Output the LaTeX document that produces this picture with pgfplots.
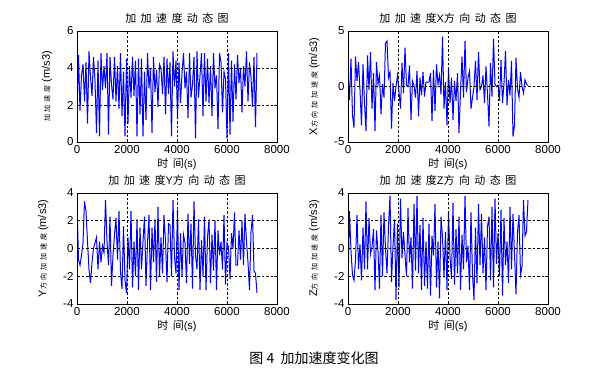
\documentclass[border=0pt]{standalone}
\usepackage{fontspec}
\usepackage{pgfplots}
\usepackage{pgfplotstable}
\pgfplotsset{compat=1.18}
\setmainfont{Liberation Sans}
\newfontfamily\cjk[LetterSpace=40]{Noto Sans CJK SC}
\newfontfamily\cjkcap{Noto Sans CJK SC}

\pgfplotstableread{
y
1.6
4.7
1.7
3.6
4.2
2.2
4.3
1.0
4.9
3.5
2.5
4.6
3.3
0.5
4.4
0.3
4.8
2.8
4.1
2.9
4.8
0.4
4.6
3.1
2.3
4.6
2.2
4.1
1.8
4.8
1.4
3.8
0.3
4.5
1.0
4.1
2.4
4.6
2.5
4.4
0.3
4.5
1.5
4.5
0.3
3.8
1.2
4.8
2.9
4.0
0.5
4.6
2.7
3.9
1.9
4.2
4.0
2.6
4.6
1.5
4.5
2.6
4.3
0.3
4.9
3.0
4.4
1.3
4.3
2.1
3.7
4.8
2.9
3.8
1.3
4.8
2.4
3.1
4.6
0.2
4.9
2.4
3.6
4.8
1.4
4.8
2.2
4.5
2.1
4.1
1.4
4.8
2.9
3.6
0.7
4.8
4.3
1.6
3.8
3.4
0.2
4.8
0.4
4.4
1.1
4.2
2.3
4.7
3.2
4.0
1.6
4.1
3.0
4.9
2.2
4.3
3.5
1.9
4.6
0.8
4.8
}\dataA

\pgfplotstableread{
y
1.3
-1.2
2.5
-2.6
-3.7
2.7
0.5
2.2
-0.3
-3.5
2.0
-1.5
-4.0
2.8
-0.3
3.1
-2.0
1.2
-4.0
2.2
0.2
1.0
-2.5
0.2
-1.0
3.9
4.1
0.8
1.3
-3.8
0.3
-1.3
0.0
1.0
-0.5
-2.0
2.1
-0.6
3.5
0.1
0.0
1.9
-3.0
0.5
0.1
-1.0
1.4
-2.7
0.8
-0.8
1.3
-0.9
0.4
0.4
0.4
1.2
-3.1
1.5
-2.2
2.0
0.2
1.0
-0.7
4.5
-2.0
0.4
-3.5
1.6
-1.5
0.8
-3.0
0.5
-1.3
1.2
-4.2
-0.5
2.7
-1.0
4.1
-0.5
0.8
1.4
-2.0
-1.0
0.0
2.3
-1.2
3.1
-0.3
0.0
1.0
-1.5
1.8
-0.7
-3.6
2.1
-0.9
4.3
0.2
0.0
0.1
-1.3
2.4
-1.5
0.3
3.2
-1.7
0.6
-0.8
2.3
-4.5
-3.5
2.6
-0.2
-1.0
1.3
0.0
-0.6
0.6
0.2
0.1
}\dataB

\pgfplotstableread{
y
3.3
-0.8
-1.2
-0.5
0.4
3.4
2.7
0.5
-1.5
-2.5
-1.0
0.0
0.4
0.8
-1.5
0.5
-1.0
0.2
-0.3
3.5
0.5
-1.2
2.3
-2.7
-0.5
1.0
2.2
-0.8
2.7
-1.7
-2.9
1.6
-2.3
-3.2
0.8
-1.5
2.7
-2.8
0.5
-2.0
2.1
-3.0
1.5
-1.5
0.5
2.3
-2.7
0.4
2.4
-3.0
1.5
-1.0
2.1
-2.4
3.0
-2.0
0.8
-1.8
2.4
0.5
-2.4
1.8
1.7
-2.0
3.5
-0.6
-1.8
2.8
-3.0
1.1
-2.0
1.0
0.4
-2.5
2.5
-1.1
1.8
-2.9
3.4
-0.5
-1.5
2.1
-3.0
0.6
-2.0
2.3
-3.0
0.8
2.1
-2.5
1.0
-1.6
2.0
-3.0
1.3
-0.5
0.5
-1.5
2.4
-2.6
0.4
0.1
-2.2
1.1
0.0
2.6
-1.2
-1.2
1.3
-0.8
2.0
-1.2
2.5
0.5
-1.0
-3.0
1.2
2.4
-1.6
-1.8
-3.2
}\dataC

\pgfplotstableread{
y
-2.9
2.7
-0.2
-1.9
-2.3
-0.8
2.4
-1.5
0.3
-2.3
1.5
-1.5
3.4
-1.5
2.2
-0.4
0.1
1.4
-3.0
1.3
-0.2
-2.9
2.4
-2.0
2.6
0.0
-1.8
1.6
3.8
-2.4
0.2
2.1
-3.7
1.8
-2.8
3.6
-0.7
1.2
-0.5
-2.0
2.9
-1.0
0.8
-2.9
3.2
-1.6
3.8
-1.8
1.7
-3.0
2.2
-2.7
0.5
-2.9
1.8
-3.4
0.9
-0.5
3.2
-2.8
0.5
-3.6
2.3
0.8
-2.1
1.2
-3.0
2.6
-0.6
-2.2
3.3
-2.6
1.4
-1.8
2.3
-3.0
1.0
-1.5
3.8
-1.0
0.2
-3.0
2.6
-1.9
-3.7
1.5
-2.5
3.2
-1.2
2.5
-1.8
0.8
-3.0
1.6
2.3
-2.3
3.0
-2.8
3.6
-1.1
1.1
-2.0
2.8
-3.4
2.2
-1.2
0.5
-2.5
3.0
-1.5
2.5
-0.4
-3.3
1.2
2.4
-1.9
-1.3
3.5
0.9
1.2
3.5
}\dataD

\pgfplotsset{
  myax/.style={
    scale only axis, width=200pt, height=111pt,
    xmin=0, xmax=8000, xtick={0,2000,4000,6000,8000},
    grid=major,
    grid style={black, dash pattern=on 2.5pt off 2pt, line width=0.6pt},
    axis line style={line width=0.8pt},
    axis on top,
    tick align=inside, major tick length=3pt, tick style={black, line width=0.6pt},
    scaled x ticks=false,
    /pgf/number format/1000 sep={},
    /pgf/number format/assume math mode=true,
    tick label style={font=\fontsize{11.5}{11.5}\selectfont},
    xlabel={{\cjk 时间}(s)},
    xlabel style={font=\fontsize{11}{11}\selectfont, yshift=2pt},
    ylabel style={font=\fontsize{11}{11}\selectfont, yshift=8pt},
    title style={font=\fontsize{11}{11}\selectfont, yshift=-2pt},
  },
  myline/.style={color={rgb,255:red,0;green,0;blue,255}, line width=1pt, line join=miter}
}

\begin{document}
\begin{tikzpicture}
\useasboundingbox (0,0) rectangle (594pt,382pt);

\begin{axis}[myax, at={(77pt,240pt)}, anchor=south west,
  ymin=0, ymax=6, ytick={0,2,4,6},
  title={\cjk 加加速度动态图},
  ylabel={{\cjk\fontsize{7}{7}\selectfont 加加速度} (m/s3)}]
\addplot[myline] table[x expr=\coordindex*60, y=y] {\dataA};
\end{axis}

\begin{axis}[myax, at={(348pt,240pt)}, anchor=south west,
  ymin=-5, ymax=5, ytick={-5,0,5},
  title={{\cjk 加加速度}X{\cjk 方向动态图}},
  ylabel={X{\cjk\fontsize{7}{7}\selectfont 方向加加速度} (m/s3)}]
\addplot[myline] table[x expr=\coordindex*60, y=y] {\dataB};
\end{axis}

\begin{axis}[myax, at={(77pt,78pt)}, anchor=south west,
  ymin=-4, ymax=4, ytick={-4,-2,0,2,4},
  title={{\cjk 加加速度}Y{\cjk 方向动态图}},
  ylabel={Y{\cjk\fontsize{7}{7}\selectfont 方向加加速度} (m/s3)}]
\addplot[myline] table[x expr=\coordindex*60, y=y] {\dataC};
\end{axis}

\begin{axis}[myax, at={(348pt,78pt)}, anchor=south west,
  ymin=-4, ymax=4, ytick={-4,-2,0,2,4},
  title={{\cjk 加加速度}Z{\cjk 方向动态图}},
  ylabel={Z{\cjk\fontsize{7}{7}\selectfont 方向加加速度} (m/s3)}]
\addplot[myline] table[x expr=\coordindex*60, y=y] {\dataD};
\end{axis}

\node at (314pt,24pt) {\cjkcap\fontsize{14}{14}\selectfont 图 4\ \ 加加速度变化图};
\end{tikzpicture}
\end{document}
